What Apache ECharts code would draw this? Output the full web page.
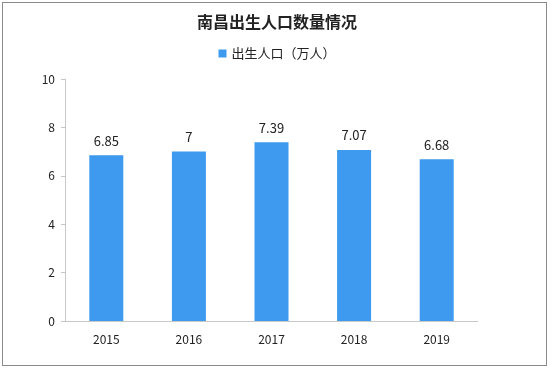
<!DOCTYPE html>
<html><head><meta charset="utf-8">
<script src="https://cdn.jsdelivr.net/npm/echarts@6/dist/echarts.min.js"></script>
<style>html,body{margin:0;padding:0;background:#fff}#wrap{position:absolute;left:2px;top:2px;width:545px;height:364px;border:1px solid #8a8a8a;box-sizing:border-box}#c{width:554px;height:370px;position:absolute;left:0;top:0}</style>
</head><body><div id="wrap"></div><div id="c"></div>
<script>
const categories = ['2015','2016','2017','2018','2019'];
const seriesName = '出生人口（万人）';
const values = [6.85, 7, 7.39, 7.07, 6.68];
const titleText = '南昌出生人口数量情况';
const chart = echarts.init(document.getElementById('c'));
chart.setOption({
  animation:false,
  title:{text:titleText,left:'center',top:9,textStyle:{fontSize:16,fontWeight:'bold',color:'#222',fontFamily:'Noto Sans CJK SC'}},
  legend:{top:42,left:'center',itemWidth:8,itemHeight:8,itemGap:2,icon:'rect',textStyle:{fontSize:13,color:'#222',fontFamily:'Noto Sans CJK SC'},data:[seriesName]},
  grid:{left:65,right:76,top:79,bottom:49},
  xAxis:{type:'category',data:categories,axisLine:{lineStyle:{color:'#c8c8c8'}},axisTick:{show:false},axisLabel:{color:'#222',fontSize:12,margin:12,fontFamily:'Noto Sans CJK SC'}},
  yAxis:{type:'value',min:0,max:10,interval:2,axisLine:{show:true,lineStyle:{color:'#c8c8c8'}},axisTick:{show:true,inside:false,length:4,lineStyle:{color:'#c8c8c8'}},splitLine:{show:false},axisLabel:{color:'#222',fontSize:12,margin:10,fontFamily:'Noto Sans CJK SC'}},
  series:[{name:seriesName,type:'bar',data:values,barWidth:34,itemStyle:{color:'#3d9aee'},label:{show:true,position:'top',distance:8,color:'#222',fontSize:13,fontFamily:'Noto Sans CJK SC'}}]
});
</script></body></html>
